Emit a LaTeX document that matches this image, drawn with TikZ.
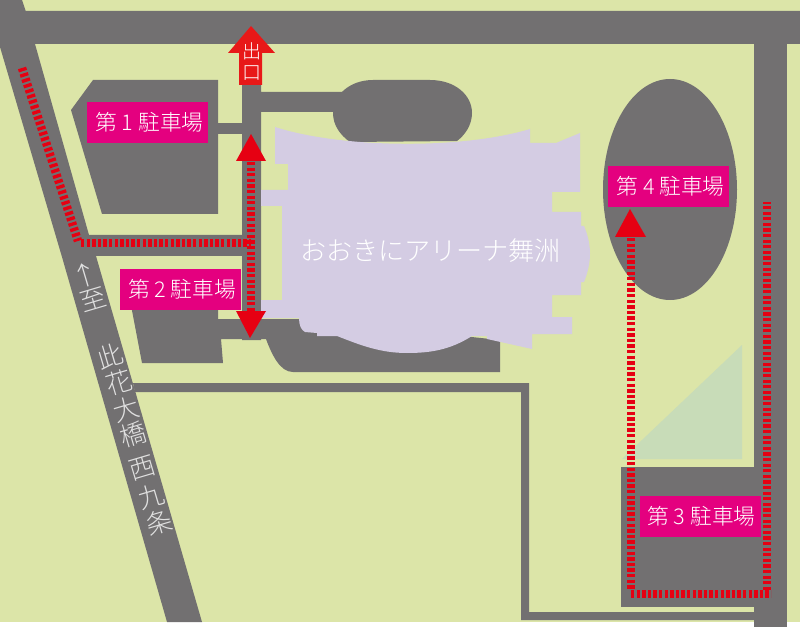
\documentclass[tikz,border=0pt]{standalone}
\usepackage{fontspec}
\newfontfamily\cjk{Noto Sans CJK JP Light}
\definecolor{bgc}{RGB}{220,229,168}
\definecolor{road}{RGB}{114,112,113}
\definecolor{hall}{RGB}{212,204,227}
\definecolor{pink}{RGB}{228,0,127}
\definecolor{redc}{RGB}{230,0,18}
\definecolor{exitc}{RGB}{232,24,24}
\definecolor{tri}{RGB}{200,220,184}
\tikzset{x=1pt,y=-1pt,
 roadfill/.style={fill=road,draw=none},
 lot/.style={fill=pink,text=white,minimum width=121pt,minimum height=41pt,inner sep=0pt,font=\cjk\fontsize{21.7}{21.7}\selectfont},
 reddash/.style={draw=redc,line width=8.5pt,dash pattern=on 3.3pt off 2.3pt},
 redarrow/.style={fill=redc,draw=none},
 roadtext/.style={text=white!88!black,font=\cjk\fontsize{26}{26}\selectfont,rotate=16.5,inner sep=0pt},
 exittext/.style={text=white,font=\cjk\fontsize{19}{19}\selectfont,inner sep=0pt}}
\begin{document}
\begin{tikzpicture}
\useasboundingbox (0,0) rectangle (800,628);
\fill[white] (0,0) rectangle (800,628);
\fill[bgc] (0,0) rectangle (800,622);
% roads
\fill[roadfill] (0,11) -- (24,11) -- (800,11) -- (800,44) -- (35,44) -- (89,235) -- (242,235) -- (242,44) -- (261,44) -- (261,92) -- (345,92) -- (345,112) -- (261,112) -- (261,340) -- (242,340) -- (242,256) -- (96,256) -- (202,622) -- (167,622) -- (62,257) -- (0,47) -- cycle;
\fill[roadfill] (0,0) -- (22,0) -- (26,12) -- (0,12) -- cycle;
\fill[roadfill] (218,123) rectangle (242,134);
\fill[roadfill] (133,383) -- (529,383) -- (529,612) -- (754,612) -- (754,620) -- (521,620) -- (521,392) -- (135,392) -- cycle;
\fill[roadfill] (754,44) rectangle (787,627);
% parking
\fill[roadfill] (93,80) -- (218,80) -- (218,214) -- (102,214) -- (71,110) -- cycle;
\fill[roadfill] (373,80) -- (430,80) .. controls (455,80) and (472,95) .. (472,113) .. controls (472,125) and (465,135) .. (457,141) -- (350,142) .. controls (340,135) and (333,125) .. (333,113) .. controls (333,95) and (350,80) .. (373,80) -- cycle;
\fill[roadfill] (130,300) -- (218,300) -- (218,319) -- (300,319) -- (500,340) -- (500,372) -- (293,372) .. controls (280,372) and (272,355) .. (266,339) -- (221,339) -- (223,363) -- (142,363) -- cycle;
\fill[roadfill] (670,189.5) ellipse [x radius=67, y radius=110.5];
\fill[roadfill] (621,467) -- (754,467) -- (754,607) -- (621,607) -- cycle;
\fill[tri] (622,459) -- (742,459) -- (742,345) -- cycle;
% hall
\fill[hall] (275,127) .. controls (340,148) and (460,150) .. (530,129) -- (530,143) -- (556,143) -- (580,133) -- (580,192) -- (552,192) -- (552,212) -- (581,212) -- (581,226) -- (584,226) .. controls (592,245) and (592,262) .. (584,282) -- (581,282) -- (581,295) -- (552,295) -- (552,317) -- (572,317) -- (572,334) -- (532,334) -- (532,349) -- (487,339) -- (487,336) -- (472,336) .. controls (450,350) and (430,353) .. (407,353) .. controls (380,353) and (360,345) .. (337,336) -- (317,336) -- (317,333) -- (305,332) .. controls (301,330) and (299,325) .. (299,318) -- (261,318) -- (261,300) -- (282,300) -- (282,206) -- (261,206) -- (261,190) -- (288,190) -- (288,164) -- (275,164) -- cycle;
\node[text=white,font=\cjk\fontsize{26.1}{26.1}\selectfont,inner sep=0pt] (hallname) at (430.5,250.5) {おおきにアリーナ舞洲};
% red routes
\coordinate (r1) at (22,68);
\coordinate (r2) at (78,241);
\coordinate (r3) at (251,243);
\coordinate (u1) at (251,162);
\coordinate (u2) at (251,312);
\draw[reddash] (r1) -- (r2);
\draw[reddash] (81,243) -- (r3);
\draw[reddash] (u1) -- (u2);
\fill[redarrow] (251,134) -- (266,161) -- (236,161) -- cycle;
\fill[redarrow] (250,338) -- (266,311) -- (236,311) -- cycle;
\coordinate (q1) at (631,238);
\coordinate (q2) at (631,594);
\coordinate (q3) at (767,594);
\coordinate (q4) at (767,202);
\draw[reddash] (q1) -- (631,590);
\draw[reddash] (q2) -- (771,594);
\draw[reddash] (767,590) -- (q4);
\fill[redarrow] (630,209) -- (646,237) -- (615,237) -- cycle;
% exit
\fill[exitc] (251,26) -- (275,53) -- (262,53) -- (262,85) -- (239,85) -- (239,53) -- (228,53) -- cycle;
\node[exittext] (e1) at (251.5,51) {出};
\node[exittext] (e2) at (251.5,73) {口};
% labels
\node[lot] (p1) at (147.5,122.5) {\hspace*{4pt}第 1 駐車場};
\node[lot] (p2) at (180,289.5) {\hspace*{4pt}第 2 駐車場};
\node[lot] (p3) at (700,516.5) {\hspace*{3pt}第 3 駐車場};
\node[lot] (p4) at (668.5,186.5) {\hspace*{4pt}第 4 駐車場};
% road text
\node[roadtext] (t0) at (85,275) {↑};
\node[roadtext] (t1) at (93,300) {至};
\node[roadtext] (t2) at (110,356) {此};
\node[roadtext] (t3) at (119,382) {花};
\node[roadtext] (t4) at (126,409) {大};
\node[roadtext] (t5) at (133,434) {橋};
\node[roadtext] (t6) at (142,468) {西};
\node[roadtext] (t7) at (151,496) {九};
\node[roadtext] (t8) at (159,522) {条};
\end{tikzpicture}
\end{document}
